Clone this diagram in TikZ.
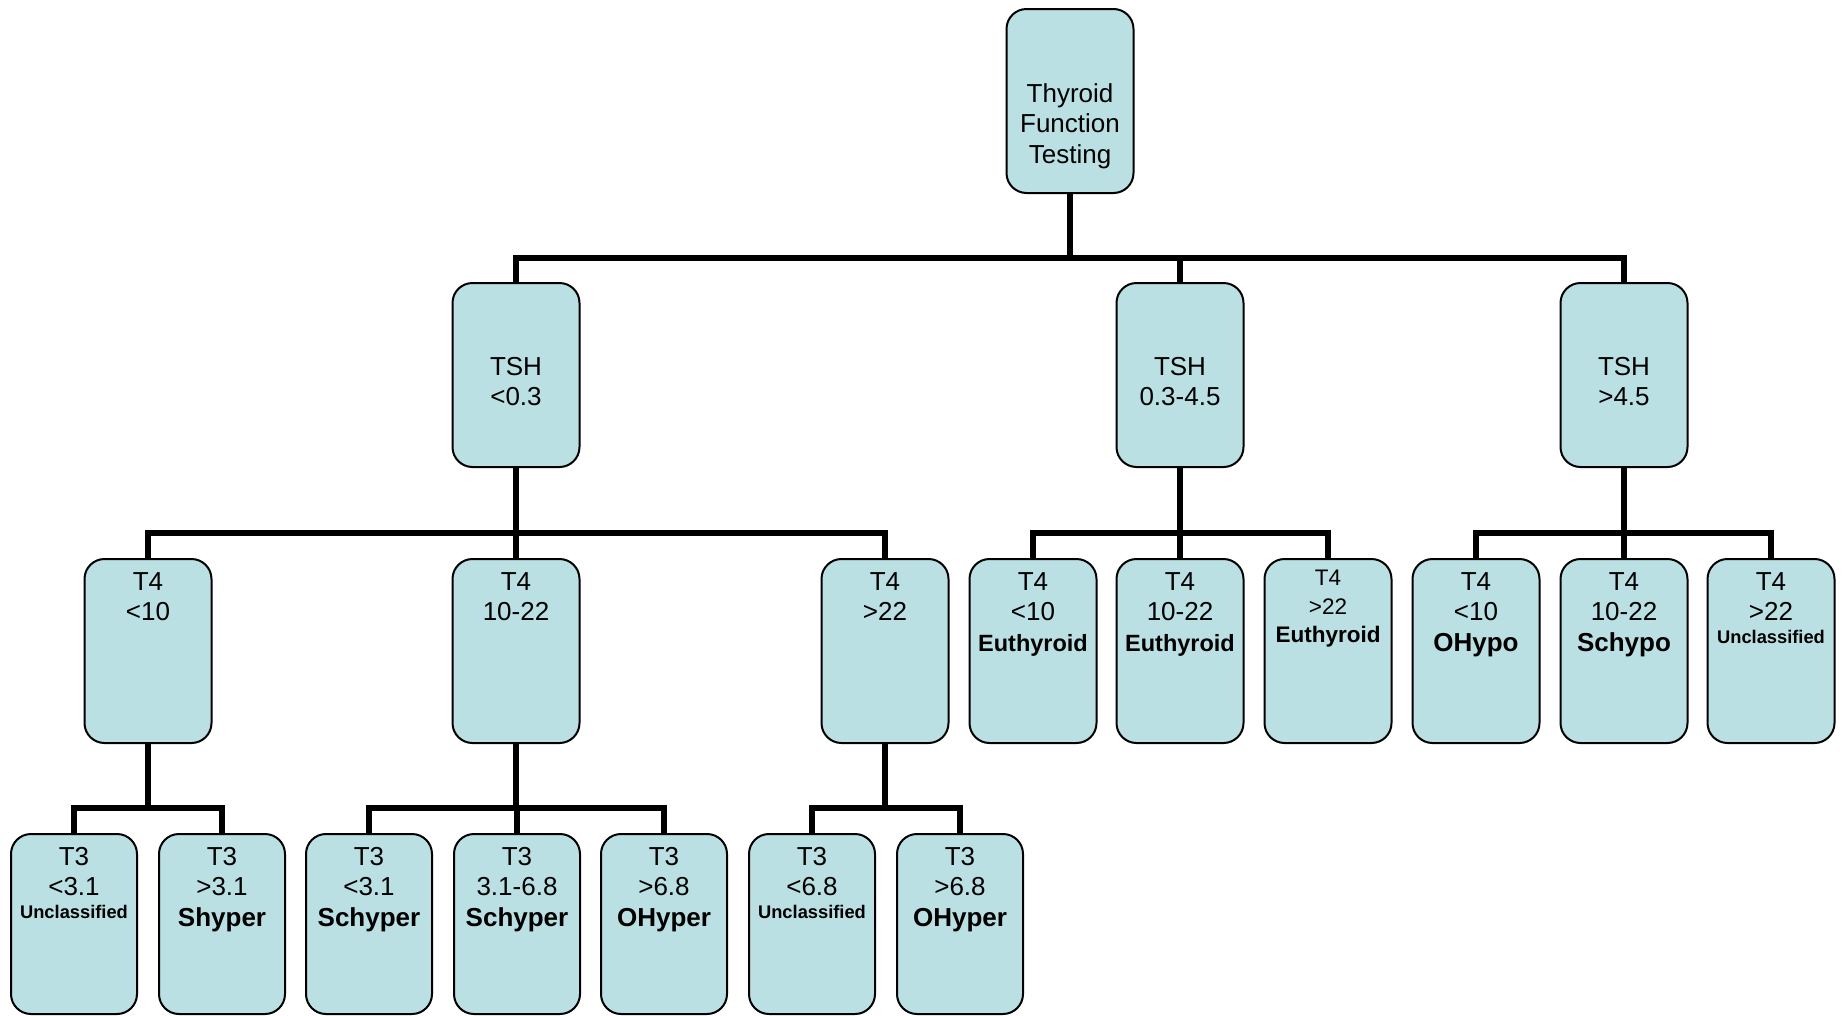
\documentclass[tikz,border=0pt]{standalone}
\usepackage{fontspec}
\setmainfont{Liberation Sans}
\usetikzlibrary{backgrounds}
\definecolor{boxfill}{RGB}{186,224,227}
\begin{document}
\begin{tikzpicture}[x=1pt,y=-1pt,
  box/.style={draw=black, line width=2pt, fill=boxfill, rounded corners=20pt,
    minimum width=127pt, minimum height=184pt, inner sep=0pt, anchor=north},
  leafbox/.style={box, minimum width=126pt, minimum height=180pt},
  lbl/.style={anchor=north, inner sep=0pt, align=center,
    font=\fontsize{26}{30.6}\selectfont},
  small/.style={font=\fontsize{22.5}{28.5}\selectfont},
  link/.style={draw=black, line width=5.5pt}
]
\newcommand{\tag}[1]{\\[-8pt]{\fontsize{18.3}{20}\selectfont\bfseries #1}}
\newcommand{\eut}{{\fontsize{23.5}{30.6}\selectfont\bfseries Euthyroid}}
\useasboundingbox (0,0) rectangle (1845,1015);

% root
\node[box] (root) at (1070,8) {};
\node[lbl] (rootlbl) at (1070,83) {Thyroid\\Function\\Testing};

% TSH level
\node[box] (tsha) at (516,282) {};
\node[box] (tshb) at (1180,282) {};
\node[box] (tshc) at (1624,282) {};
\node[lbl] (tshalbl) at (516,357) {TSH\\<0.3};
\node[lbl] (tshblbl) at (1180,357) {TSH\\0.3-4.5};
\node[lbl] (tshclbl) at (1624,357) {TSH\\>4.5};

% T4 level
\node[box] (ta) at (148,558) {};
\node[box] (tb) at (516,558) {};
\node[box] (tc) at (885,558) {};
\node[box] (td) at (1033,558) {};
\node[box] (te) at (1180,558) {};
\node[box] (tf) at (1328,558) {};
\node[box] (tg) at (1476,558) {};
\node[box] (th) at (1624,558) {};
\node[box] (ti) at (1771,558) {};
\node[lbl] (talbl) at (148,572) {T4\\<10};
\node[lbl] (tblbl) at (516,572) {T4\\10-22};
\node[lbl] (tclbl) at (885,572) {T4\\>22};
\node[lbl] (tdlbl) at (1033,572) {T4\\<10\\\eut};
\node[lbl] (telbl) at (1180,572) {T4\\10-22\\\eut};
\node[lbl,small] (tflbl) at (1328,570) {T4\\>22\\\textbf{Euthyroid}};
\node[lbl] (tglbl) at (1476,572) {T4\\<10\\\textbf{OHypo}};
\node[lbl] (thlbl) at (1624,572) {T4\\10-22\\\textbf{Schypo}};
\node[lbl] (tilbl) at (1771,572) {T4\\>22\tag{Unclassified}};

% T3 level
\node[leafbox] (la) at (74,833) {};
\node[leafbox] (lb) at (222,833) {};
\node[leafbox] (lc) at (369,833) {};
\node[leafbox] (ld) at (517,833) {};
\node[leafbox] (le) at (664,833) {};
\node[leafbox] (lf) at (812,833) {};
\node[leafbox] (lg) at (960,833) {};
\node[lbl] (lalbl) at (74,847) {T3\\<3.1\tag{Unclassified}};
\node[lbl] (lblbl) at (222,847) {T3\\>3.1\\\textbf{Shyper}};
\node[lbl] (lclbl) at (369,847) {T3\\<3.1\\\textbf{Schyper}};
\node[lbl] (ldlbl) at (517,847) {T3\\3.1-6.8\\\textbf{Schyper}};
\node[lbl] (lelbl) at (664,847) {T3\\>6.8\\\textbf{OHyper}};
\node[lbl] (lflbl) at (812,847) {T3\\<6.8\tag{Unclassified}};
\node[lbl] (lglbl) at (960,847) {T3\\>6.8\\\textbf{OHyper}};

% junction points of the connectors
\coordinate (j0) at (1070,258);
\coordinate (ja) at (516,533);
\coordinate (jb) at (1180,533);
\coordinate (jc) at (1624,533);
\coordinate (ka) at (148,808);
\coordinate (kb) at (516,808);
\coordinate (kc) at (885,808);

\begin{scope}[on background layer]
  \fill[white] (0,0) rectangle (1845,1015);
  % root to TSH
  \draw[link] (root.south) -- (j0);
  \draw[link] (tsha.north) |- (j0) -| (tshc.north);
  \draw[link] (tshb.north) -- (tshb.north |- j0);
  % TSH to T4
  \draw[link] (tsha.south) -- (ja);
  \draw[link] (ta.north) |- (ja) -| (tc.north);
  \draw[link] (tb.north) -- (tb.north |- ja);
  \draw[link] (tshb.south) -- (jb);
  \draw[link] (td.north) |- (jb) -| (tf.north);
  \draw[link] (te.north) -- (te.north |- jb);
  \draw[link] (tshc.south) -- (jc);
  \draw[link] (tg.north) |- (jc) -| (ti.north);
  \draw[link] (th.north) -- (th.north |- jc);
  % T4 to T3
  \draw[link] (ta.south) -- (ka);
  \draw[link] (la.north) |- (ka) -| (lb.north);
  \draw[link] (tb.south) -- (kb);
  \draw[link] (lc.north) |- (kb) -| (le.north);
  \draw[link] (ld.north) -- (ld.north |- kb);
  \draw[link] (tc.south) -- (kc);
  \draw[link] (lf.north) |- (kc) -| (lg.north);
\end{scope}
\end{tikzpicture}
\end{document}
